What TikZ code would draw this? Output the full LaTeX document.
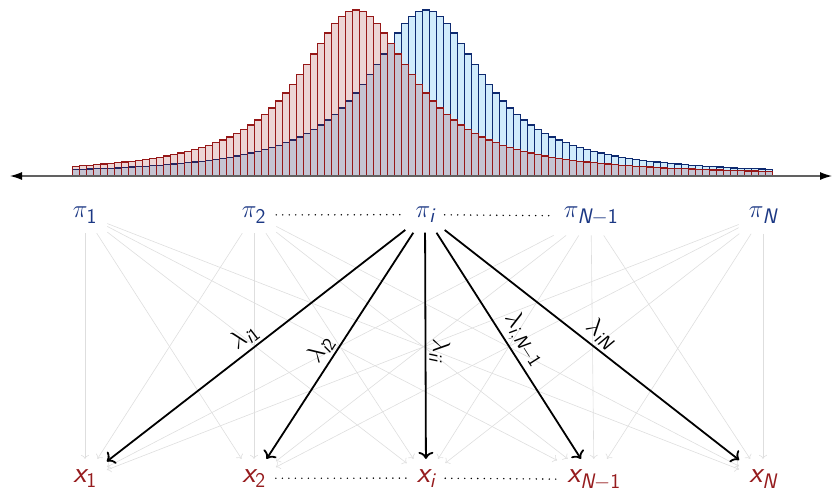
\documentclass[tikz,border=0pt]{standalone}
\usepackage{amsmath}
\usetikzlibrary{arrows.meta}
\definecolor{piblue}{RGB}{28,56,132}
\definecolor{xred}{RGB}{150,28,30}
\definecolor{barblue}{RGB}{208,235,251}
\definecolor{lineblue}{RGB}{14,42,112}
\definecolor{linered}{RGB}{150,24,24}
\newcommand{\sfit}[1]{\textsf{\itshape #1}}
\newcommand{\sfup}[1]{\textsf{#1}}
\begin{document}
\begin{tikzpicture}[x=1pt, y=-1pt,
    pinode/.style={text=piblue, inner sep=10pt, anchor=base, font=\fontsize{30}{36}\selectfont},
    xnode/.style={text=xred, inner sep=10pt, anchor=base, font=\fontsize{30}{36}\selectfont},
    edge/.style={-{Computer Modern Rightarrow[length=4pt,width=8pt]}, draw=black!13, line width=0.6pt},
    weight/.style={-{Computer Modern Rightarrow[length=7pt,width=15pt]}, line width=1.8pt},
    lbl/.style={sloped, above, inner sep=3pt, font=\fontsize{27}{32}\selectfont},
    dots/.style={line width=1.6pt, line cap=round, dash pattern=on 0pt off 6.5pt},
    bluebar/.style={fill=barblue, draw=lineblue, line width=1.3pt},
    redbar/.style={fill=linered, fill opacity=0.18, draw=linered, line width=1.3pt},
    axis/.style={{Latex[length=12pt,width=8pt,black]}-{Latex[length=12pt,width=8pt,black]}, draw=black!62, line width=1.2pt}]
        \useasboundingbox (0,0) rectangle (836,488);

        % 画两个分布的直方图
        \foreach \j in {0,...,99}{
            \pgfmathsetmacro{\hb}{166/(1+((\j-50)/10)^2)}
            \draw[bluebar] ({72.7+7*\j},176) rectangle ++(7,-\hb);
        }
        \foreach \j in {0,...,99}{
            \pgfmathsetmacro{\hr}{166/(1+((\j-40)/10)^2)}
            \draw[redbar] ({72.7+7*\j},176) rectangle ++(7,-\hr);
        }

        % 画数轴
        \draw[axis] (10,176) -- (832,176);

        % 上面一行 pi
        \node[pinode] (p1) at (85,217.5) {$\pi_{\sfup{1}}$};
        \node[pinode] (p2) at (254,217.5) {$\pi_{\sfup{2}}$};
        \node[pinode] (pi) at (425,217.5) {$\pi_{\sfit{i}}$};
        \node[pinode] (pn1) at (591,217.5) {$\pi_{\sfit{N}-\sfup{1}}$};
        \node[pinode] (pn) at (763,217.5) {$\pi_{\sfit{N}}$};

        % 下面一行 x
        \node[xnode] (x1) at (85,482) {$\sfit{x}_{\sfup{1}}$};
        \node[xnode] (x2) at (254,482) {$\sfit{x}_{\sfup{2}}$};
        \node[xnode] (xi) at (426,482) {$\sfit{x}_{\sfit{i}}$};
        \node[xnode] (xn1) at (594,482) {$\sfit{x}_{\sfit{N}-\sfup{1}}$};
        \node[xnode] (xn) at (763,482) {$\sfit{x}_{\sfit{N}}$};

        % 省略号
        \draw[dots] (p2) -- (pi);
        \draw[dots] (pi) -- (pn1);
        \draw[dots] (x2) -- (xi);
        \draw[dots] (xi) -- (xn1);

        % 所有的连线（浅灰）
        \foreach \a in {p1,p2,pi,pn1,pn}
            \foreach \b in {x1,x2,xi,xn1,xn}
                \draw[edge] (\a) -- (\b);

        % 从 pi_i 出发的权重
        \draw[weight] (pi) -- (x1) node[lbl, pos=0.51] {$\lambda_{\sfit{i}\sfup{1}}$};
        \draw[weight] (pi) -- (x2) node[lbl, pos=0.55] {$\lambda_{\sfit{i}\sfup{2}}$};
        \draw[weight] (pi) -- (xi) node[lbl, pos=0.52] {$\lambda_{\sfit{ii}}$};
        \draw[weight] (pi) -- (xn1) node[lbl, pos=0.51] {$\lambda_{\sfit{i},\sfit{N}-\sfup{1}}$};
        \draw[weight] (pi) -- (xn) node[lbl, pos=0.5] {$\lambda_{\sfit{iN}}$};
    \end{tikzpicture}
\end{document}
